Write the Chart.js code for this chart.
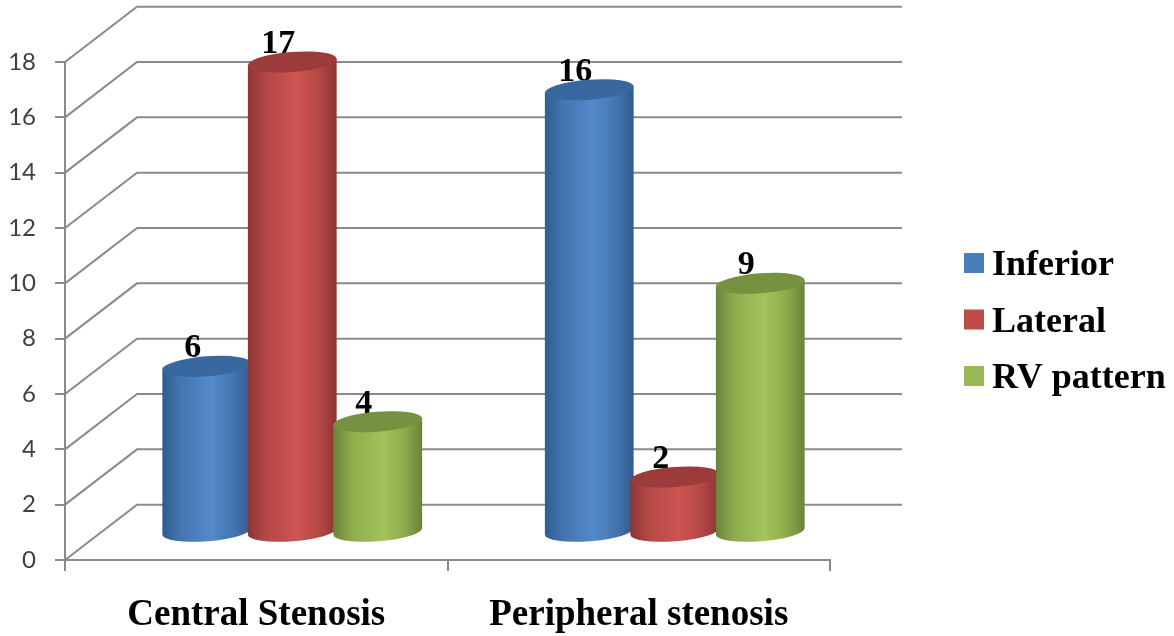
<!DOCTYPE html>
<html>
<head>
<meta charset="utf-8">
<title>Stenosis chart</title>
<script src="https://cdn.jsdelivr.net/npm/chart.js@4"></script>
<style>
  html, body { margin: 0; padding: 0; background: #fff; }
  canvas { display: block; filter: blur(0.5px); }
</style>
</head>
<body>
<canvas id="stenosisChart" width="1174" height="636"></canvas>
<script>
const categories = ['Central Stenosis', 'Peripheral stenosis']
const seriesNames = ['Inferior', 'Lateral', 'RV pattern']
const inferior = [6, 16]
const lateral = [17, 2]
const rvPattern = [4, 9]

const AXIS_GREY = '#8a8a8a'
const SERIF = '"Liberation Serif", serif'

// edge, mid-edge, highlight, top cap, legend swatch
const palette = [
  { edge: '#2f5c90', mid: '#4475ae', light: '#5489cb', cap: '#38689f', key: '#4a7ebb' },
  { edge: '#8b3533', mid: '#b34846', light: '#cf5452', cap: '#9c3b3a', key: '#be4b48' },
  { edge: '#68843a', mid: '#8dab4c', light: '#a3c45c', cap: '#76913f', key: '#98b954' },
]

function depthOf(chart) {
  const y = chart.scales.y
  return { dx: 72, dy: y.getPixelForValue(0) - y.getPixelForValue(2) }
}

// back wall lines and the slanted side wall
const wallPlugin = {
  id: 'wall',
  beforeDatasetsDraw(chart) {
    const { ctx, scales, chartArea } = chart
    const { dx, dy } = depthOf(chart)
    ctx.save()
    ctx.strokeStyle = AXIS_GREY
    ctx.lineWidth = 2
    scales.y.ticks.forEach((t) => {
      const py = scales.y.getPixelForValue(t.value)
      ctx.beginPath()
      ctx.moveTo(chartArea.left, py)
      ctx.lineTo(chartArea.left + dx, py - dy)
      ctx.lineTo(chartArea.right + dx, py - dy)
      ctx.stroke()
    })
    ctx.restore()
  },
}

function drawCylinder(ctx, cx, top, bottom, rx, c) {
  const ry = 10
  const tilt = -0.075
  const ex = Math.cos(tilt) * rx
  const ey = Math.sin(tilt) * rx
  const grad = ctx.createLinearGradient(cx - rx, 0, cx + rx, 0)
  grad.addColorStop(0, c.edge)
  grad.addColorStop(0.2, c.mid)
  grad.addColorStop(0.55, c.light)
  grad.addColorStop(0.8, c.mid)
  grad.addColorStop(1, c.edge)

  ctx.beginPath()
  ctx.moveTo(cx - ex, top - ey)
  ctx.lineTo(cx - ex, bottom - ey)
  ctx.ellipse(cx, bottom, rx, ry, tilt, Math.PI, 0, true)
  ctx.lineTo(cx + ex, top + ey)
  ctx.closePath()
  ctx.fillStyle = grad
  ctx.fill()

  ctx.beginPath()
  ctx.ellipse(cx, top, rx, ry, tilt, 0, Math.PI * 2)
  ctx.fillStyle = c.cap
  ctx.fill()
}

// Chart.js has no cylinders, so each bar element is redrawn as one, pushed
// half a wall depth back. The value label sits behind the cap as in the source.
const cylinderPlugin = {
  id: 'cylinders',
  afterDatasetsDraw(chart) {
    const { ctx } = chart
    const { dx, dy } = depthOf(chart)
    chart.data.datasets.forEach((ds, i) => {
      chart.getDatasetMeta(i).data.forEach((bar, j) => {
        const cx = bar.x + dx / 2
        const top = bar.y - dy / 2
        const bottom = bar.base - dy / 2
        ctx.save()
        ctx.font = 'bold 34px ' + SERIF
        ctx.fillStyle = '#000'
        ctx.textAlign = 'center'
        ctx.textBaseline = 'alphabetic'
        ctx.fillText(String(ds.data[j]), cx - 14, top - 9)
        ctx.restore()
        drawCylinder(ctx, cx, top, bottom, 44.5, palette[i])
      })
    })
  },
}

const legendPlugin = {
  id: 'sideLegend',
  afterDraw(chart) {
    const { ctx } = chart
    ctx.save()
    ctx.font = 'bold 36px ' + SERIF
    ctx.textAlign = 'left'
    ctx.textBaseline = 'alphabetic'
    chart.data.datasets.forEach((ds, i) => {
      const y = 253 + i * 56.5
      ctx.fillStyle = palette[i].key
      ctx.fillRect(964, y, 20, 20)
      ctx.fillStyle = '#000'
      ctx.fillText(ds.label, 992, y + 22)
    })
    ctx.restore()
  },
}

const ctx = document.getElementById('stenosisChart').getContext('2d')
new Chart(ctx, {
  type: 'bar',
  data: {
    labels: categories,
    datasets: [inferior, lateral, rvPattern].map((values, i) => ({
      label: seriesNames[i],
      data: values,
      backgroundColor: 'rgba(0,0,0,0)',
      barThickness: 85.5,
    })),
  },
  plugins: [wallPlugin, cylinderPlugin, legendPlugin],
  options: {
    responsive: false,
    animation: false,
    layout: { padding: { left: 0, right: 344, top: 62, bottom: 0 } },
    plugins: {
      legend: { display: false },
      tooltip: { enabled: false },
    },
    scales: {
      x: {
        afterFit(scale) {
          scale.height = 76
        },
        border: { color: AXIS_GREY, width: 2 },
        grid: { drawOnChartArea: false, color: AXIS_GREY, lineWidth: 2, tickLength: 11 },
        ticks: {
          maxRotation: 0,
          autoSkip: false,
          padding: 22,
          color: '#000',
          font: { family: SERIF, size: 37, weight: 'bold' },
        },
      },
      y: {
        min: 0,
        max: 18,
        afterFit(scale) {
          scale.width = 65
        },
        border: { color: AXIS_GREY, width: 2 },
        grid: { drawOnChartArea: false, color: AXIS_GREY, lineWidth: 2, tickLength: 10 },
        ticks: {
          stepSize: 2,
          padding: 19,
          color: '#404040',
          font: { family: 'Lato', size: 24 },
        },
      },
    },
  },
})
</script>
</body>
</html>
